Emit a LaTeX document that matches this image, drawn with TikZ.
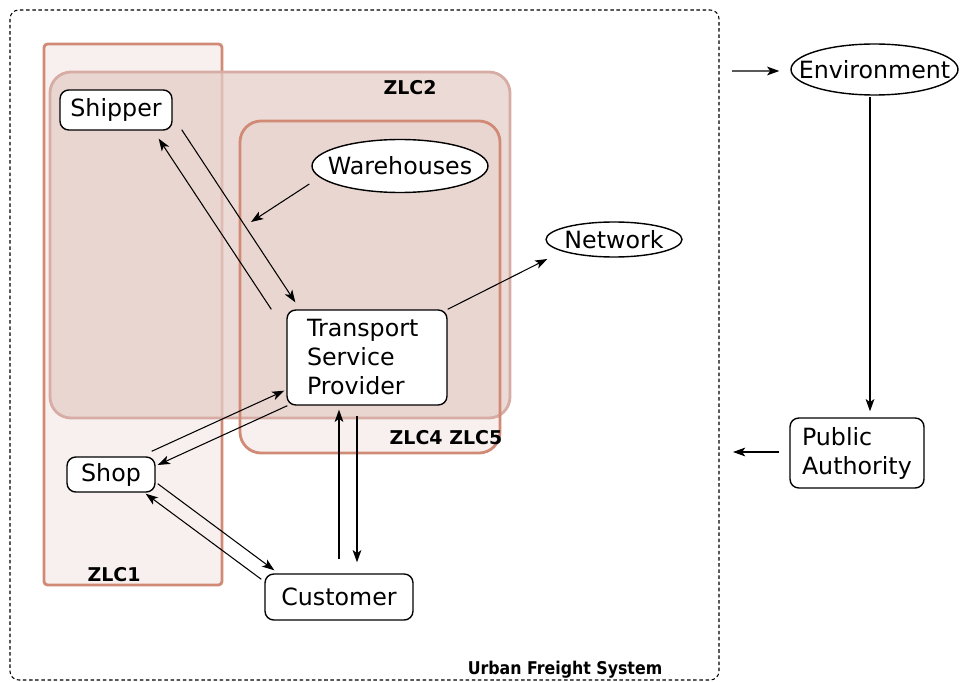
\documentclass[tikz,border=0pt]{standalone}
\usepackage{fontspec}
\setmainfont{DejaVu Sans}
\newfontfamily\condfont{DejaVu Sans Condensed}
\usetikzlibrary{shapes.geometric,arrows.meta,calc}
\definecolor{zoneline}{RGB}{208,138,118}
\definecolor{zonelight}{RGB}{248,240,239}
\definecolor{zonedark}{RGB}{229,206,200}
\definecolor{zonerim}{RGB}{214,172,164}
\newcommand{\ovaltext}[1]{\makebox[0pt]{#1}}
\begin{document}
\begin{tikzpicture}[x=0.02cm,y=-0.02cm,
		box/.style={draw, rounded corners=5pt, fill=white, line width=0.8pt, font=\fontsize{13.5}{16.5}\selectfont, inner sep=0pt},
		oval/.style={draw, ellipse, fill=white, line width=0.8pt, font=\fontsize{13.5}{16.5}\selectfont, inner sep=0pt},
		zonename/.style={font=\bfseries\fontsize{10.8}{12}\selectfont},
		flow/.style={-{Stealth[length=7pt,width=5pt,inset=1.8pt]}, line width=0.6pt}]
	\useasboundingbox (0,0) rectangle (960,682);
	\draw [dash pattern=on 2pt off 1.5pt, line width=0.6pt, rounded corners=5pt] (10,10) rectangle (719,680);
	\node [font=\condfont\bfseries\fontsize{10}{12}\selectfont] (ufs) at (565,670) {Urban Freight System};
	\draw [zoneline, fill=zonelight, line width=1.6pt, rounded corners=2pt] (44,44) rectangle (222,585);
	\fill [zonelight, rounded corners=12pt] (240,121) rectangle (500,453);
	\draw [zonerim, fill=zonedark, fill opacity=0.75, line width=1.6pt, rounded corners=12pt] (50,72) rectangle (510,418);
	\draw [zoneline, line width=1.6pt, rounded corners=12pt] (240,121) rectangle (500,453);
	\node [zonename] (zlcb) at (410,88) {ZLC2};
	\node [zonename] (zlcd) at (446,438) {ZLC4 ZLC5};
	\node [zonename] (zlca) at (114,575) {ZLC1};
	\node [box, minimum width=2.24cm, minimum height=0.8cm] (shipper) at (116,110) {Shipper};
	\node [oval, minimum width=3.52cm, minimum height=1.06cm] (whouse) at (400,166) {\ovaltext{Warehouses}};
	\node [oval, minimum width=2.72cm, minimum height=0.7cm] (network) at (614,239.5) {\ovaltext{Network}};
	\node [box, minimum width=3.2cm, minimum height=1.9cm, text width=2.4cm, inner xsep=0.4cm, align=left] (tsp) at (367,357.5) {Transport\\Service\\Provider};
	\node [box, minimum width=1.76cm, minimum height=0.7cm] (shop) at (111,474.5) {Shop};
	\node [box, minimum width=2.96cm, minimum height=0.92cm] (customer) at (339,597) {Customer};
	\node [oval, minimum width=3.34cm, minimum height=1.02cm] (env) at (874.5,69.5) {\ovaltext{Environment}};
	\node [box, minimum width=2.68cm, minimum height=1.4cm, text width=2.2cm, inner xsep=0.24cm, align=left] (pa) at (857,453) {Public\\Authority};
	\coordinate (whend) at (251,222);
	\coordinate (envin) at (732,71);
	\coordinate (paout) at (733,452);
	\draw [flow] ($(shipper.south east)+(9,-1)$) -- ($(tsp.north west)+(9,-7)$);
	\draw [flow] ($(tsp.north west)+(-15,0)$) -- ($(shipper.south east)+(-14,8)$);
	\draw [flow] ($(whouse.west)+(-2,18)$) -- (whend);
	\draw [flow] (tsp.north east) -- ($(network.west)+(2,19.5)$);
	\draw [flow] ($(shop.north east)+(-4,-5)$) -- ($(tsp.south west)+(-2,-15)$);
	\draw [flow] ($(tsp.south west)+(1,0)$) -- ($(shop.east)+(2,-9.5)$);
	\draw [flow] ($(shop.south east)+(2,-9)$) -- ($(customer.north west)+(10,-3)$);
	\draw [flow] ($(customer.north west)+(-3,6)$) -- ($(shop.south east)+(-10,1)$);
	\draw [flow] ($(customer.north)+(0,-14)$) -- ($(tsp.south)+(-28,4)$);
	\draw [flow] ($(tsp.south)+(-10,10)$) -- ($(customer.north)+(18,-11)$);
	\draw [flow] ($(env.south)+(-4.5,1)$) -- ($(pa.north)+(13,-6)$);
	\draw [flow] (envin) -- ($(env.west)+(-11,1.5)$);
	\draw [flow] ($(pa.west)+(-10,-1)$) -- (paout);
\end{tikzpicture}
\end{document}
